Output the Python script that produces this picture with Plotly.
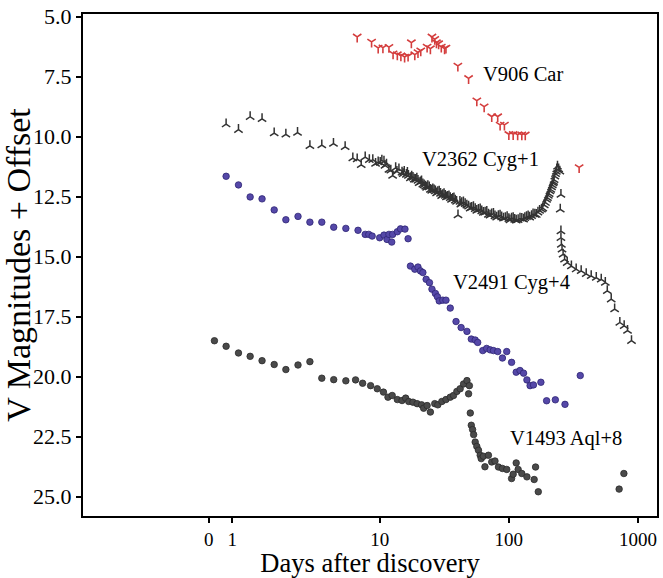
import numpy as np
import plotly.graph_objects as go

# ---------------- data (days after discovery, V magnitude) ----------------
v906_t = [6.7, 8.66, 9.74, 10.6, 11.8, 12.7, 13.7, 14.6, 15.6, 16.6, 17.6, 18.7, 19.8, 20.8,
          23.3, 24.7, 25.4, 26.7, 27.5, 28.6, 30.0, 31.8, 32.6, 40.3, 48.8, 56.5, 64.4, 73.7,
          82.0, 85.6, 92.4, 100, 108, 117, 126, 134, 350]
v906_v = [5.84, 6.05, 6.30, 6.29, 6.27, 6.54, 6.58, 6.63, 6.68, 6.64, 6.08, 6.58, 6.49, 6.42,
          6.26, 6.33, 5.84, 5.94, 6.08, 6.12, 6.26, 6.33, 6.30, 7.05, 7.57, 8.50, 8.75, 9.16,
          9.16, 9.51, 9.51, 9.90, 9.90, 9.92, 9.92, 9.92, 11.28]
v906_offset = 0

v2362_t = [0.74, 1.27, 1.77, 2.28, 2.80, 3.30, 3.80, 4.33, 4.84, 5.34, 5.84,
           6.2, 6.7, 7.2, 7.73, 8.32, 8.85, 9.30, 9.74, 10.1, 10.4, 10.8, 11.0, 11.3, 11.8,
           12.2, 12.6, 13.3, 13.6, 14.1, 14.9, 15.2, 15.5, 16.1, 16.4, 16.7, 17.3, 17.7,
           18.1, 18.5, 19.0, 19.4, 19.8, 20.2, 20.7, 21.1, 21.6, 22.1, 22.7, 23.1, 23.6,
           24.2, 24.7, 25.3, 25.8, 26.4, 27.0, 27.6, 28.2, 28.9, 29.6, 30.2, 30.8, 31.5,
           32.2, 32.9, 33.6, 34.4, 35.2, 36.0, 36.8, 37.6, 38.5, 39.4, 40.4, 41.8, 42.5,
           43.2, 44.5, 45.9, 47.3, 48.8, 50.2, 51.6, 53.2, 54.9, 56.5, 58.2, 60.0, 61.7,
           63.5, 65.5, 67.5, 69.5, 71.5, 73.6, 76.0, 78.1, 80.5, 83.0, 85.5, 88.0, 91.0,
           94.0, 97.0, 100, 102, 105, 108, 111, 114, 118, 122, 126, 130, 133, 137, 141,
           145, 150, 154, 159, 163, 168, 173, 179, 183, 188, 192, 196, 199, 202, 205, 208,
           211, 214, 217, 220, 222, 224, 227, 230, 233, 235, 238, 243, 248, 253, 250,
           253, 253, 255, 258, 263, 270, 283, 305, 332, 363, 397, 434, 475, 519, 558,
           578, 620, 659, 723, 781, 829, 890]
v2362_v = [8.48, 8.71, 8.17, 8.26, 8.85, 8.90, 8.83, 9.38, 9.35, 9.29, 9.42,
           9.89, 9.93, 10.17, 9.85, 9.96, 9.96, 10.12, 10.06, 10.08, 9.99, 10.03, 10.20, 10.15, 10.37,
           10.40, 10.62, 10.30, 10.45, 10.35, 10.49, 10.55, 10.45, 10.58, 10.50, 10.62, 10.72, 10.65,
           10.70, 10.78, 10.79, 10.74, 10.83, 10.92, 10.89, 10.85, 10.98, 11.02, 11.07, 11.12, 11.05,
           11.10, 11.20, 11.24, 11.18, 11.22, 11.27, 11.35, 11.30, 11.28, 11.37, 11.46, 11.42, 11.38,
           11.45, 11.52, 11.50, 11.47, 11.55, 11.62, 11.58, 11.56, 11.65, 11.70, 12.27, 11.70, 11.82,
           11.76, 11.72, 11.80, 11.86, 11.90, 11.98, 11.95, 11.92, 12.01, 12.08, 12.04, 12.02, 12.10,
           12.16, 12.15, 12.12, 12.24, 12.28, 12.22, 12.20, 12.31, 12.36, 12.30, 12.28, 12.35, 12.40,
           12.38, 12.34, 12.42, 12.47, 12.40, 12.38, 12.45, 12.48, 12.46, 12.40, 12.41, 12.44, 12.38, 12.34, 12.31,
           12.36, 12.30, 12.22, 12.24, 12.25, 12.15, 12.08, 12.03, 11.98, 11.85, 11.75, 11.62, 11.55, 11.45, 11.38, 11.27,
           11.20, 11.10, 11.02, 10.93, 10.88, 10.80, 10.65, 10.55, 10.45, 10.35, 10.24, 10.35, 10.44, 11.41, 12.03,
           12.93, 13.21, 13.49, 13.69, 13.90, 14.11, 14.25, 14.39, 14.52, 14.59, 14.71, 14.80, 14.87, 14.94, 15.08,
           15.42, 15.77, 16.18, 16.74, 16.88, 17.08, 17.50]
v2362_offset = 1

v2491_t = [0.74, 1.27, 1.77, 2.28, 2.80, 3.30, 3.82, 4.33, 4.84, 5.35, 5.87, 6.8, 7.73, 8.24,
           8.75, 10.0, 10.8, 11.4, 11.8, 12.4, 12.6, 13.7, 14.5, 15.7, 16.6, 17.3, 18.7, 19.8,
           20.7, 21.6, 22.9, 24.3, 25.4, 27.0, 28.0, 28.9, 30.8, 32.6, 35.2, 39.0, 42.7, 47.4,
           51.2, 54.9, 57.4, 62.8, 67.3, 71.7, 76.0, 82.0, 89.2, 96.3, 105, 114, 122, 130, 138,
           146, 155, 177, 196, 229, 272, 357]
v2491_v = [7.65, 8.01, 8.51, 8.59, 9.05, 9.46, 9.32, 9.56, 9.56, 9.77, 9.82, 9.90, 10.07, 10.07,
           10.14, 10.21, 10.10, 10.28, 10.07, 10.39, 10.07, 9.96, 9.84, 9.85, 10.25, 11.39, 11.52, 11.43,
           11.59, 11.66, 11.94, 12.08, 12.35, 12.53, 12.67, 12.84, 12.81, 12.81, 13.14, 13.70, 13.95, 14.11,
           14.43, 14.47, 14.57, 14.91, 14.82, 14.88, 14.91, 14.95, 15.22, 14.95, 15.40, 15.81, 15.74, 15.85, 16.13,
           16.37, 16.34, 16.23, 17.00, 16.96, 17.15, 15.95]
v2491_offset = 4

v1493_t = [0.24, 0.74, 1.27, 1.77, 2.28, 2.80, 3.30, 3.82, 4.33, 4.84, 5.35, 5.87, 6.51, 7.38,
           8.51, 9.58, 10.7, 11.6, 12.5, 13.7, 14.9, 15.9, 16.8, 18.1, 19.5, 21.1, 21.9, 23.3,
           24.7, 26.7, 28.2, 30.3, 32.6, 35.2, 37.3, 39.6, 42.0, 44.6, 47.4, 48.8, 49.5, 50.3,
           51.2, 52.4, 53.4, 54.9, 56.5, 58.2, 60.0, 61.1, 63.5, 65.3, 69.5, 73.7, 78.1, 83.1,
           89.2, 96.3, 105, 108, 114, 118, 126, 138, 157, 161, 169, 714, 777]
v1493_v = [10.50, 10.73, 11.01, 11.15, 11.33, 11.49, 11.70, 11.51, 11.37, 12.06, 12.12, 12.17, 12.13, 12.27,
           12.37, 12.50, 12.64, 12.85, 12.78, 12.95, 12.99, 12.89, 13.03, 13.06, 13.12, 13.17, 13.31, 13.20,
           13.47, 13.12, 13.17, 13.03, 12.95, 12.85, 12.78, 12.61, 12.50, 12.30, 12.16, 12.71, 12.37, 13.51,
           14.02, 14.20, 14.41, 14.72, 14.90, 15.06, 15.27, 15.41, 15.31, 15.75, 15.27, 15.55, 15.51, 15.76,
           15.82, 15.86, 16.24, 16.06, 15.59, 15.86, 16.03, 16.17, 16.28, 15.76, 16.79, 16.68, 16.03]
v1493_offset = 8

labels = ["V906 Car", "V2362 Cyg+1", "V2491 Cyg+4", "V1493 Aql+8"]
x_tick_values = [0, 1, 10, 100, 1000]
x_tick_labels = ["0", "1", "10", "100", "1000"]
y_tick_values = [5.0, 7.5, 10.0, 12.5, 15.0, 17.5, 20.0, 22.5, 25.0]

# ---------------- symmetric-log x scale ----------------
LINTHRESH = 6.15
LINSCALE_ADJ = 1.0 / (1.0 - 1.0 / 10.0)


def symlog(t):
    t = np.asarray(t, dtype=float)
    a = np.abs(t)
    out = np.where(a <= LINTHRESH,
                   t * LINSCALE_ADJ / LINTHRESH,
                   np.sign(t) * (LINSCALE_ADJ + np.log10(np.maximum(a, LINTHRESH) / LINTHRESH)))
    return out


FONT = "Liberation Serif, Times New Roman, serif"

fig = go.Figure()

fig.add_trace(go.Scatter(
    x=symlog(v906_t), y=np.array(v906_v) + v906_offset, mode="markers", name=labels[0],
    marker=dict(symbol="y-down", size=7, color="#d43d3d", line=dict(color="#d43d3d", width=1.6))))

fig.add_trace(go.Scatter(
    x=symlog(v2362_t), y=np.array(v2362_v) + v2362_offset, mode="markers", name=labels[1],
    marker=dict(symbol="y-up", size=7, color="#333333", line=dict(color="#333333", width=1.5))))

fig.add_trace(go.Scatter(
    x=symlog(v2491_t), y=np.array(v2491_v) + v2491_offset, mode="markers", name=labels[2],
    marker=dict(symbol="circle", size=6.5, color="#5548a8", line=dict(color="#2e2675", width=0.8))))

fig.add_trace(go.Scatter(
    x=symlog(v1493_t), y=np.array(v1493_v) + v1493_offset, mode="markers", name=labels[3],
    marker=dict(symbol="circle", size=6.5, color="#4a4a4a", line=dict(color="#2b2b2b", width=0.8))))

# curve labels
label_pos = [(0.694, 0.881), (0.587, 0.710), (0.641, 0.466), (0.740, 0.155)]
for txt, (px, py) in zip(labels, label_pos):
    fig.add_annotation(text=txt, x=px, y=py, xref="paper", yref="paper",
                       xanchor="left", yanchor="middle", showarrow=False,
                       font=dict(family=FONT, size=20.5, color="black"))

fig.update_layout(
    width=663, height=578,
    margin=dict(l=83, r=4, t=12, b=62),
    paper_bgcolor="white", plot_bgcolor="white",
    showlegend=False,
    font=dict(family=FONT, color="black"),
)

fig.update_xaxes(
    range=[-0.974, 3.469],
    tickmode="array", tickvals=symlog(x_tick_values), ticktext=x_tick_labels,
    ticks="outside", ticklen=5, tickwidth=1.5, tickcolor="black",
    showline=True, linecolor="black", linewidth=2, mirror=True,
    showgrid=False, zeroline=False,
    tickfont=dict(family=FONT, size=19),
    title=dict(text="Days after discovery", font=dict(family=FONT, size=26.5), standoff=6),
)

fig.update_yaxes(
    range=[25.8, 4.89],
    tickmode="array", tickvals=y_tick_values, ticktext=[f"{v:.1f}" for v in y_tick_values],
    ticks="outside", ticklen=5, tickwidth=1.5, tickcolor="black",
    showline=True, linecolor="black", linewidth=2, mirror=True,
    showgrid=False, zeroline=False,
    tickfont=dict(family=FONT, size=22),
    title=dict(text="V Magnitudes + Offset", font=dict(family=FONT, size=34), standoff=2),
)

fig.write_html("out.html")
